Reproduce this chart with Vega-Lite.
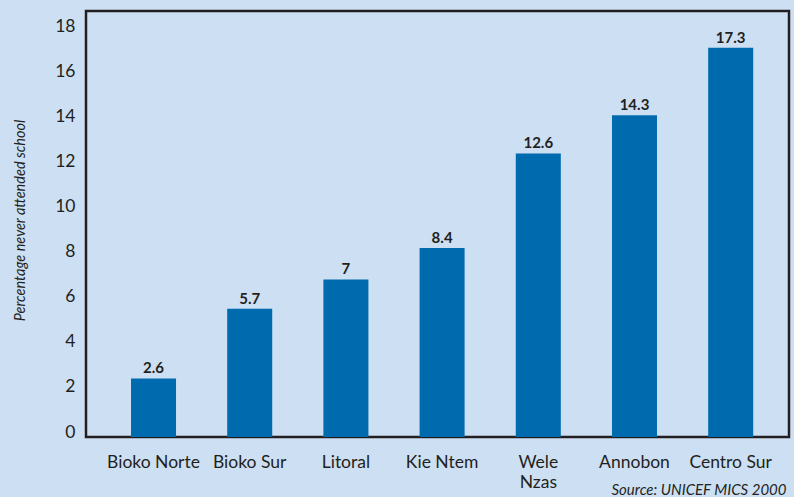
{
  "$schema": "https://vega.github.io/schema/vega-lite/v6.json",
  "autosize": "none",
  "width": 703,
  "height": 426,
  "padding": {"left": 86, "top": 11, "right": 5, "bottom": 60},
  "background": "#cde0f3",
  "config": {
    "font": "Lato",
    "view": {"stroke": "#231f20", "strokeWidth": 2.5}
  },
  "data": {
    "values": [
      {"region": "Bioko Norte", "value": 2.6},
      {"region": "Bioko Sur", "value": 5.7},
      {"region": "Litoral", "value": 7},
      {"region": "Kie Ntem", "value": 8.4},
      {"region": "Wele Nzas", "value": 12.6},
      {"region": "Annobon", "value": 14.3},
      {"region": "Centro Sur", "value": 17.3}
    ]
  },
  "encoding": {
    "x": {
      "field": "region",
      "type": "nominal",
      "sort": null,
      "scale": {"paddingInner": 0.532, "paddingOuter": 0.42, "align": 0.557},
      "axis": {
        "title": "Source: UNICEF MICS 2000",
        "titleFont": "Lato",
        "titleFontStyle": "italic",
        "titleFontWeight": "normal",
        "titleFontSize": 15,
        "titleColor": "#231f20",
        "titleAnchor": "end",
        "titleAlign": "right",
        "titleBaseline": "alphabetic",
        "titleX": 700,
        "titleY": 57,
        "labelAngle": 0,
        "labelFontSize": 17.5,
        "labelColor": "#231f20",
        "labelPadding": 16,
        "labelLineHeight": 20,
        "labelBaseline": "top",
        "labelExpr": "datum.label == 'Wele Nzas' ? ['Wele', 'Nzas'] : datum.label",
        "ticks": false,
        "domain": false
      }
    },
    "y": {
      "field": "value",
      "type": "quantitative",
      "scale": {"domain": [0, 18.93], "nice": false},
      "axis": {
        "title": "Percentage never attended school",
        "titleFontStyle": "italic",
        "titleFontWeight": "normal",
        "titleFontSize": 14.5,
        "titleColor": "#231f20",
        "titleX": -66,
        "titleY": 209,
        "titleAngle": -90,
        "titleBaseline": "middle",
        "titleAlign": "center",
        "values": [0, 2, 4, 6, 8, 10, 12, 14, 16, 18],
        "labelFontSize": 17.5,
        "labelColor": "#231f20",
        "labelPadding": 11,
        "labelOffset": -5,
        "ticks": false,
        "domain": false,
        "grid": false
      }
    }
  },
  "layer": [
    {"mark": {"type": "bar", "color": "#006aae"}},
    {
      "mark": {"type": "text", "baseline": "bottom", "dy": -2, "fontWeight": "bold", "fontSize": 15, "color": "#231f20"},
      "encoding": {"text": {"field": "value", "type": "quantitative"}}
    }
  ]
}
